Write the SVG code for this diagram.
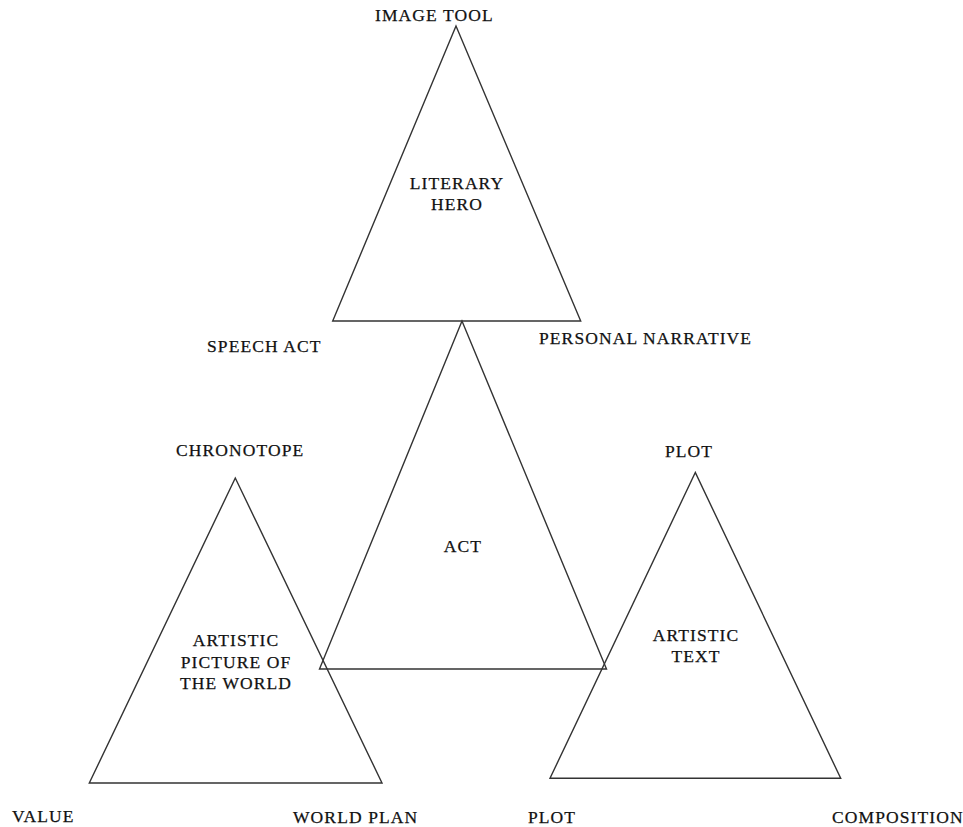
<svg xmlns="http://www.w3.org/2000/svg" width="963" height="827" viewBox="0 0 963 827">
<style>
.tri{fill:none;stroke:#333;stroke-width:1.4;stroke-linejoin:miter}
text{font-family:"Liberation Serif","Times New Roman",serif;font-size:17.5px;fill:#111;stroke:#111;stroke-width:0.25px;letter-spacing:1.1px}
.c{text-anchor:middle}
</style>
<rect width="963" height="827" fill="#fff"/>
<g id="literary-hero">
<polygon class="tri" points="456,26 332.7,321 580.7,321"/>
<text class="c" x="457" y="189">LITERARY</text>
<text class="c" x="457" y="210">HERO</text>
</g>
<g id="act">
<polygon class="tri" points="462,321 319.5,669 606.5,669"/>
<text class="c" x="463" y="552">ACT</text>
</g>
<g id="artistic-picture">
<polygon class="tri" points="235.3,478 89.3,783 382,783"/>
<text class="c" x="236" y="646">ARTISTIC</text>
<text class="c" x="236" y="668">PICTURE OF</text>
<text class="c" x="236" y="689">THE WORLD</text>
</g>
<g id="artistic-text">
<polygon class="tri" points="695.3,472.5 550,778.3 840.7,778.3"/>
<text class="c" x="696" y="641">ARTISTIC</text>
<text class="c" x="696" y="662">TEXT</text>
</g>
<g id="labels">
<text x="375" y="21">IMAGE TOOL</text>
<text x="207" y="352">SPEECH ACT</text>
<text x="539" y="344">PERSONAL NARRATIVE</text>
<text x="176" y="456">CHRONOTOPE</text>
<text x="665" y="457">PLOT</text>
<text x="12" y="822">VALUE</text>
<text x="293" y="823">WORLD PLAN</text>
<text x="528" y="823">PLOT</text>
<text x="832" y="823">COMPOSITION</text>
</g>
<g id="connectors"></g>
</svg>
